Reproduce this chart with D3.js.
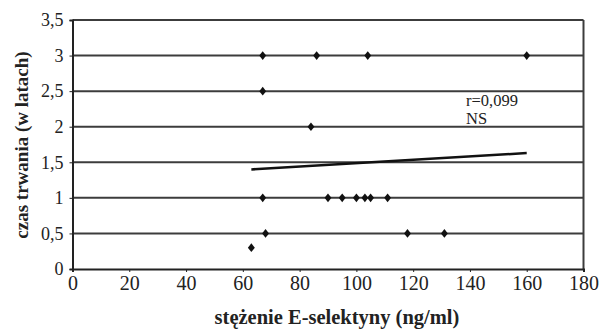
<!DOCTYPE html>
<html>
<head>
<meta charset="utf-8">
<script src="https://cdn.jsdelivr.net/npm/d3@7"></script>
<style>
  body { margin: 0; background: #fff; }
  svg { display: block; }
</style>
</head>
<body>
<svg id="chart" width="601" height="329"></svg>
<script>
// stężenie E-selektyny (ng/ml) vs czas trwania (lata)
const xValues = [67, 86, 104, 160, 67, 84, 67, 90, 95, 100, 103, 105, 111, 68, 118, 131, 63];
const yValues = [3, 3, 3, 3, 2.5, 2, 1, 1, 1, 1, 1, 1, 1, 0.5, 0.5, 0.5, 0.3];
const trendX = [63, 160];
const trendY = [1.40, 1.63];
const xTicks = [0, 20, 40, 60, 80, 100, 120, 140, 160, 180];
const yTicks = [0, 0.5, 1, 1.5, 2, 2.5, 3, 3.5];
const annotation = ['r=0,099', 'NS'];

const FONT = 'Liberation Serif';
const svg = d3.select('#chart');
const margin = { left: 72.5, right: 17.5, top: 20, bottom: 60 };
const width = 601, height = 329;

const x = d3.scaleLinear().domain([0, 180]).range([margin.left, width - margin.right]);
const y = d3.scaleLinear().domain([0, 3.5]).range([height - margin.bottom, margin.top]);
const fmt = d => String(d).replace('.', ',');

// gridlines
svg.append('g')
    .selectAll('line')
    .data(yTicks.filter(d => d > 0))
    .enter().append('line')
    .attr('x1', x(0)).attr('x2', x(180))
    .attr('y1', d => y(d)).attr('y2', d => y(d))
    .attr('stroke', '#3c3c3c')
    .attr('stroke-width', 2);

// right border
svg.append('line')
    .attr('x1', x(180)).attr('x2', x(180))
    .attr('y1', y(3.5)).attr('y2', y(0))
    .attr('stroke', '#3c3c3c')
    .attr('stroke-width', 2);

// axes
const xAxis = svg.append('g')
    .attr('transform', 'translate(0,' + y(0) + ')')
    .call(d3.axisBottom(x).tickValues(xTicks).tickSize(3).tickPadding(4).tickFormat(fmt))
    .attr('font-family', FONT)
    .attr('font-size', 20);
const yAxis = svg.append('g')
    .attr('transform', 'translate(' + x(0) + ',0)')
    .call(d3.axisLeft(y).tickValues(yTicks).tickSize(3).tickPadding(6).tickFormat(fmt))
    .attr('font-family', FONT)
    .attr('font-size', 18);

xAxis.select('.domain').attr('stroke', '#222').attr('stroke-width', 2);
yAxis.select('.domain').attr('stroke', '#222').attr('stroke-width', 2);
xAxis.selectAll('.tick line').attr('stroke', '#222');
yAxis.selectAll('.tick line').attr('stroke', '#222');
xAxis.selectAll('.tick text').attr('fill', '#222');
yAxis.selectAll('.tick text').attr('fill', '#222');

// trend line
svg.append('line')
    .attr('x1', x(trendX[0])).attr('y1', y(trendY[0]))
    .attr('x2', x(trendX[1])).attr('y2', y(trendY[1]))
    .attr('stroke', '#111')
    .attr('stroke-width', 2.5);

// points (slightly tall diamonds)
const points = xValues.map((d, i) => ({ x: d, y: yValues[i] }));
svg.append('g')
    .selectAll('path')
    .data(points)
    .enter().append('path')
    .attr('d', d3.symbol().type(d3.symbolSquare).size(24))
    .attr('transform', d => 'translate(' + x(d.x) + ',' + y(d.y) + ') scale(1,1.25) rotate(45)')
    .attr('fill', '#111');

// annotation
svg.append('text')
    .attr('x', 466).attr('y', 106)
    .attr('font-family', FONT)
    .attr('font-size', 16.5)
    .attr('fill', '#222')
    .text(annotation[0]);
svg.append('text')
    .attr('x', 466).attr('y', 124)
    .attr('font-family', FONT)
    .attr('font-size', 16.5)
    .attr('fill', '#222')
    .text(annotation[1]);

// axis titles
svg.append('text')
    .attr('x', 337).attr('y', 324)
    .attr('text-anchor', 'middle')
    .attr('font-family', FONT)
    .attr('font-size', 20.5)
    .attr('font-weight', 'bold')
    .attr('fill', '#222')
    .text('stężenie E-selektyny (ng/ml)');
svg.append('text')
    .attr('transform', 'translate(28,145) rotate(-90)')
    .attr('text-anchor', 'middle')
    .attr('font-family', FONT)
    .attr('font-size', 19)
    .attr('font-weight', 'bold')
    .attr('fill', '#222')
    .text('czas trwania (w latach)');
</script>
</body>
</html>
